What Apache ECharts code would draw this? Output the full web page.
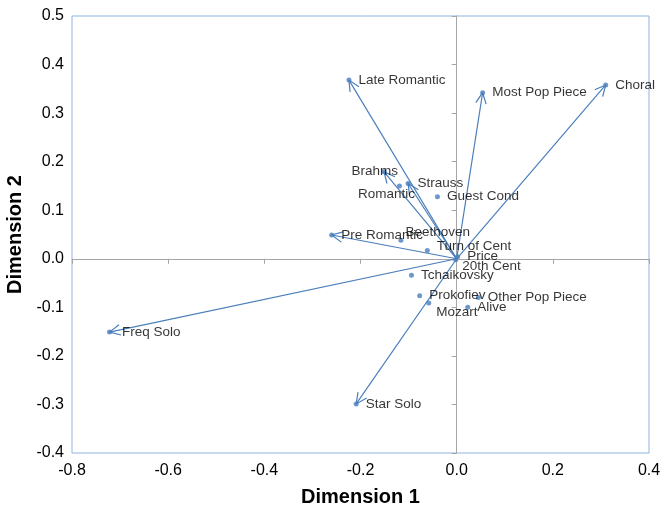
<!DOCTYPE html>
<html>
<head>
<meta charset="utf-8">
<script src="https://cdn.jsdelivr.net/npm/echarts@6/dist/echarts.min.js"></script>
<style>
  html, body { margin: 0; padding: 0; background: #fff; }
  #chart { width: 663px; height: 511px; }
</style>
</head>
<body>
<div id="chart"></div>
<script>
// point names and coordinates
const names = ['Late Romantic', 'Most Pop Piece', 'Choral', 'Brahms', 'Romantic', 'Strauss',
    'Guest Cond', 'Pre Romantic', 'Beethoven', 'Turn of Cent', 'Price', '20th Cent',
    'Tchaikovsky', 'Prokofiev', 'Mozart', 'Other Pop Piece', 'Alive', 'Freq Solo', 'Star Solo'];
const dim1 = [-0.224, 0.054, 0.310, -0.151, -0.119, -0.101, -0.040, -0.260, -0.116, -0.061, 0.002, -0.002,
    -0.094, -0.077, -0.058, 0.045, 0.023, -0.722, -0.209];
const dim2 = [0.368, 0.342, 0.358, 0.179, 0.150, 0.155, 0.128, 0.049, 0.038, 0.017, 0.004, -0.002,
    -0.034, -0.076, -0.091, -0.080, -0.100, -0.151, -0.299];
// which points get a vector drawn from the origin
const arrowNames = ['Late Romantic', 'Most Pop Piece', 'Choral', 'Brahms', 'Strauss',
    'Pre Romantic', 'Freq Solo', 'Star Solo'];

// hand-moved labels (pixel nudges)
const labelNudge = {
    'Brahms': [-42, -1],
    'Romantic': [-51, 8],
    'Beethoven': [-5, -8],
    'Turn of Cent': [0, -4],
    'Price': [0, -1],
    '20th Cent': [-3, 7],
    'Mozart': [-2, 9],
    'Freq Solo': [3, 0]
};

const blue = '#4a7ebb';

const points = names.map((n, i) => ({
    name: n,
    value: [dim1[i], dim2[i]],
    label: { offset: labelNudge[n] || [0, 0] }
}));
const arrows = arrowNames.map(n => {
    const i = names.indexOf(n);
    return [dim1[i], dim2[i]];
});

const chart = echarts.init(document.getElementById('chart'));
const axisFont = { fontFamily: 'Liberation Sans', fontSize: 16, color: '#000' };
const nameFont = { fontFamily: 'Liberation Sans', fontSize: 20, fontWeight: 'bold', color: '#000' };

chart.setOption({
    animation: false,
    grid: {
        left: 72, right: 14, top: 16, bottom: 58, outerBoundsMode: 'none',
        show: true, borderColor: '#8db3e2', borderWidth: 1
    },
    xAxis: [{
        type: 'value', min: -0.8, max: 0.4, interval: 0.2,
        axisLine: { show: false }, axisTick: { show: false }, splitLine: { show: false },
        axisLabel: Object.assign({ margin: 10, formatter: v => v.toFixed(1) }, axisFont),
        name: 'Dimension 1', nameLocation: 'middle', nameGap: 34, nameTextStyle: nameFont
    }, {
        type: 'value', min: -0.8, max: 0.4, interval: 0.2, position: 'top',
        axisLine: { show: true, onZero: true, lineStyle: { color: '#a6a6a6', width: 1 } },
        axisTick: { show: true, inside: true, length: 5, lineStyle: { color: '#a6a6a6' } },
        axisLabel: { show: false }, splitLine: { show: false }
    }],
    yAxis: [{
        type: 'value', min: -0.4, max: 0.5, interval: 0.1,
        axisLine: { show: false }, axisTick: { show: false }, splitLine: { show: false },
        axisLabel: Object.assign({ margin: 8, formatter: v => v.toFixed(1) }, axisFont),
        name: 'Dimension 2', nameLocation: 'middle', nameGap: 42, nameRotate: 90, nameTextStyle: nameFont
    }, {
        type: 'value', min: -0.4, max: 0.5, interval: 0.1, position: 'right',
        axisLine: { show: true, onZero: true, lineStyle: { color: '#a6a6a6', width: 1 } },
        axisTick: { show: true, inside: true, length: 5, lineStyle: { color: '#a6a6a6' } },
        axisLabel: { show: false }, splitLine: { show: false }
    }],
    series: [{
        type: 'custom',
        clip: false,
        z: 2,
        data: arrows,
        renderItem: (params, api) => {
            const o = api.coord([0, 0]);
            const p = api.coord([api.value(0), api.value(1)]);
            const ang = Math.atan2(p[1] - o[1], p[0] - o[0]);
            const len = 12, spread = 0.45;
            const h1 = [p[0] - len * Math.cos(ang - spread), p[1] - len * Math.sin(ang - spread)];
            const h2 = [p[0] - len * Math.cos(ang + spread), p[1] - len * Math.sin(ang + spread)];
            const style = { stroke: blue, lineWidth: 1.2, fill: null };
            return {
                type: 'group',
                children: [
                    { type: 'line', shape: { x1: o[0], y1: o[1], x2: p[0], y2: p[1] }, style },
                    { type: 'polyline', shape: { points: [h1, p, h2] }, style }
                ]
            };
        }
    }, {
        type: 'scatter',
        z: 3,
        symbolSize: 5,
        itemStyle: { color: blue },
        data: points,
        label: {
            show: true, position: 'right', distance: 7, formatter: '{b}',
            fontFamily: 'Liberation Sans', fontSize: 13.5, color: '#000'
        }
    }]
});
window.addEventListener('resize', () => chart.resize());
</script>
</body>
</html>
